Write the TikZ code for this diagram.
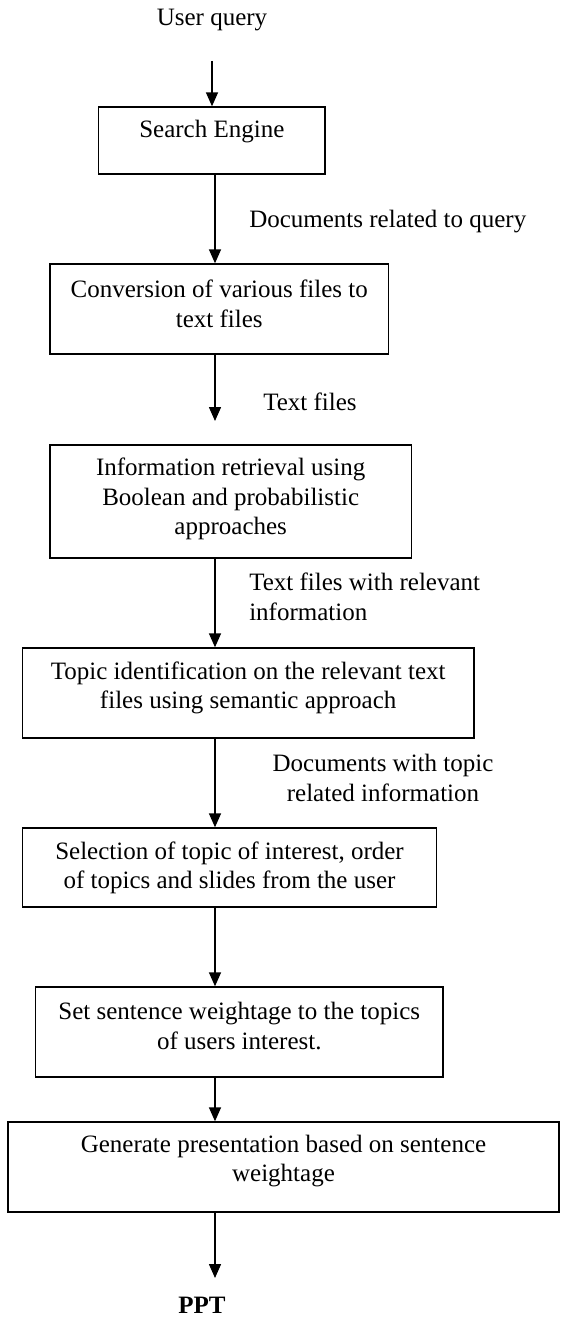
\documentclass[tikz,border=0pt]{standalone}
\usepackage{fontspec}
\setmainfont{Liberation Serif}
\usetikzlibrary{arrows.meta}
\begin{document}
\begin{tikzpicture}[x=0.75pt, y=-0.75pt,
  every node/.style={font=\fontsize{18.75}{22.1}\selectfont},
  stepbox/.style={draw, line width=1pt, inner sep=0pt, rectangle},
  txt/.style={inner sep=0pt, align=center},
  lbl/.style={inner sep=0pt, align=left, anchor=west},
  flow/.style={line width=1.1pt, -{Triangle[length=10.5pt, width=9pt]}}]
\useasboundingbox (0,0) rectangle (560,1319);

% process boxes (centre, width, height in px)
\node[stepbox, minimum width=226.4*0.75pt, minimum height=67*0.75pt] (b1) at (211.8,140.5) {};
\node[stepbox, minimum width=338.6*0.75pt, minimum height=90*0.75pt] (b2) at (219.3,309) {};
\node[stepbox, minimum width=361.4*0.75pt, minimum height=113*0.75pt] (b3) at (230.7,501.5) {};
\node[stepbox, minimum width=451.5*0.75pt, minimum height=90*0.75pt] (b4) at (248.2,693) {};
\node[stepbox, minimum width=414*0.75pt, minimum height=79*0.75pt] (b5) at (229.5,867.5) {};
\node[stepbox, minimum width=407.2*0.75pt, minimum height=90*0.75pt] (b6) at (239.3,1032) {};
\node[stepbox, minimum width=551*0.75pt, minimum height=90*0.75pt] (b7) at (283.5,1167) {};

% box texts
\node[txt] (t1) at (211.8,132) {Search Engine};
\node[txt] (t2) at (219.3,304) {Conversion of various files to\\text files};
\node[txt] (t3) at (230.7,499) {Information retrieval using\\Boolean and probabilistic\\approaches};
\node[txt] (t4) at (248.2,688) {Topic identification on the relevant text\\files using semantic approach};
\node[txt] (t5) at (229.5,868) {Selection of topic of interest, order\\of topics and slides from the user};
\node[txt] (t6) at (239.3,1026) {Set sentence weightage to the topics\\of users interest.};
\node[txt] (t7) at (283.5,1161) {Generate presentation based on sentence\\weightage};

% input and output
\node[txt] (uq) at (212,20) {User query};
\node[txt, font=\fontsize{18.75}{22.1}\selectfont\bfseries] (ppt) at (202,1305) {PPT};

% connector labels
\node[lbl] (l1) at (249,222) {Documents related to query};
\node[lbl] (l2) at (263,402) {Text files};
\node[lbl] (l3) at (249,597) {Text files with relevant\\information};
\node[txt] (l4) at (383,778) {Documents with topic\\related information};

% connectors
\coordinate (ax) at (215,0);
\coordinate (qstart) at (212,61);
\coordinate (tend) at (215,421);
\coordinate (pend) at (215,1278);
\draw[flow] (qstart) -- (b1.north -| qstart);
\draw[flow] (b1.south -| ax) -- (b2.north -| ax);
\draw[flow] (b2.south -| ax) -- (tend);
\draw[flow] (b3.south -| ax) -- (b4.north -| ax);
\draw[flow] (b4.south -| ax) -- (b5.north -| ax);
\draw[flow] (b5.south -| ax) -- (b6.north -| ax);
\draw[flow] (b6.south -| ax) -- (b7.north -| ax);
\draw[flow] (b7.south -| ax) -- (pend);
\end{tikzpicture}
\end{document}
